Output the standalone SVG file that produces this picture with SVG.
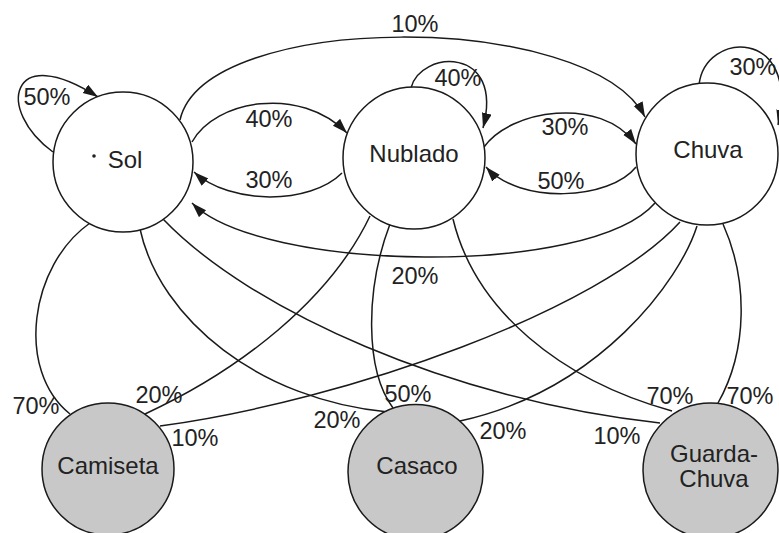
<svg xmlns="http://www.w3.org/2000/svg" width="779" height="533" viewBox="0 0 779 533">
  <style>
    .state { fill: #ffffff; stroke: #1a1a1a; stroke-width: 1.5; }
    .obs { fill: #c8c8c8; stroke: #1a1a1a; stroke-width: 1.5; }
    .edge { fill: none; stroke: #1a1a1a; stroke-width: 1.5; }
    .arrow { marker-end: url(#head); }
    .name { font-family: "Liberation Sans", Arial, sans-serif; font-size: 24px; fill: #222222; text-anchor: middle; }
    .pct { font-family: "Liberation Sans", Arial, sans-serif; font-size: 23.5px; fill: #222222; text-anchor: middle; }
  </style>
  <defs>
    <marker id="head" markerUnits="userSpaceOnUse" markerWidth="16" markerHeight="12" refX="15" refY="5" orient="auto">
      <path d="M0,0 L15,5 L0,10 Z" fill="#1a1a1a"/>
    </marker>
  </defs>
  <rect width="779" height="533" fill="#ffffff"/>

  <!-- transitions between hidden states and emissions -->
  <g id="connectors">
    <!-- self loops -->
    <path class="edge arrow" d="M53,152 C-5,110 10,40 98,97"/>
    <path class="edge arrow" d="M411,88 C420,50 505,45 483,128"/>
    <path class="edge arrow" d="M699,85 C705,30 800,28 778,125"/>
    <!-- state to state -->
    <path class="edge arrow" d="M180,120 C205,10 590,10 645,117"/>
    <path class="edge arrow" d="M192,142 C215,100 300,85 347,133"/>
    <path class="edge arrow" d="M342,173 C310,205 230,205 194,172"/>
    <path class="edge arrow" d="M484,147 C510,110 600,95 636,144"/>
    <path class="edge arrow" d="M636,167 C610,200 520,205 486,167"/>
    <path class="edge arrow" d="M655,203 C590,278 260,272 192,203"/>
    <!-- emissions -->
    <path class="edge" d="M90,223 C30,265 15,370 70,414"/>
    <path class="edge" d="M140,229 C160,320 260,400 388,412"/>
    <path class="edge" d="M163,219 C250,310 450,400 660,423"/>
    <path class="edge" d="M370,216 C330,300 240,370 145,414"/>
    <path class="edge" d="M390,224 C365,290 365,370 393,408"/>
    <path class="edge" d="M453,219 C475,310 560,380 672,411"/>
    <path class="edge" d="M680,222 C600,310 350,400 160,426"/>
    <path class="edge" d="M697,226 C680,280 600,390 460,421"/>
    <path class="edge" d="M723,224 C748,280 748,350 718,403"/>
  </g>

  <g id="labels">
    <text class="pct" x="415" y="32">10%</text>
    <text class="pct" x="47" y="105">50%</text>
    <text class="pct" x="269" y="127">40%</text>
    <text class="pct" x="269" y="188">30%</text>
    <text class="pct" x="458" y="86">40%</text>
    <text class="pct" x="565" y="135">30%</text>
    <text class="pct" x="561" y="189">50%</text>
    <text class="pct" x="753" y="75">30%</text>
    <text class="pct" x="415" y="284">20%</text>
    <text class="pct" x="36" y="414">70%</text>
    <text class="pct" x="159" y="403">20%</text>
    <text class="pct" x="195" y="446">10%</text>
    <text class="pct" x="337" y="428">20%</text>
    <text class="pct" x="408" y="402">50%</text>
    <text class="pct" x="503" y="439">20%</text>
    <text class="pct" x="670" y="404">70%</text>
    <text class="pct" x="750" y="404">70%</text>
    <text class="pct" x="617" y="444">10%</text>
  </g>

  <g id="sol">
    <circle class="state" cx="123" cy="162" r="70"/>
    <circle cx="94" cy="156" r="1.8" fill="#222222"/>
    <text class="name" x="125" y="168">Sol</text>
  </g>
  <g id="nublado">
    <circle class="state" cx="414" cy="158" r="71"/>
    <text class="name" x="414" y="162">Nublado</text>
  </g>
  <g id="chuva">
    <circle class="state" cx="707" cy="154" r="71"/>
    <text class="name" x="708" y="158">Chuva</text>
  </g>
  <g id="camiseta">
    <circle class="obs" cx="108" cy="469" r="66"/>
    <text class="name" x="108" y="474">Camiseta</text>
  </g>
  <g id="casaco">
    <circle class="obs" cx="415.5" cy="472" r="67.5"/>
    <text class="name" x="417" y="474">Casaco</text>
  </g>
  <g id="guarda-chuva">
    <circle class="obs" cx="710.5" cy="470.5" r="67.5"/>
    <text class="name" x="714" y="462">Guarda-</text>
    <text class="name" x="714" y="487">Chuva</text>
  </g>
</svg>
